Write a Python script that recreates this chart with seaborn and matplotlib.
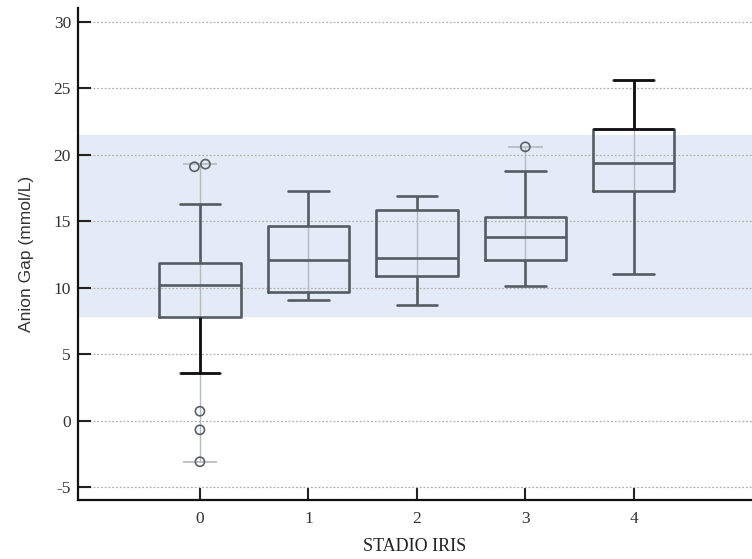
import numpy as np
import pandas as pd
import matplotlib
matplotlib.use("Agg")
import matplotlib.pyplot as plt
import seaborn as sns

# IRIS stage summaries of the anion gap (mmol/L)
stages = ["0", "1", "2", "3", "4"]
whisker_low = [3.6, 9.1, 8.7, 10.1, 11.0]
quartile_1 = [7.8, 9.7, 10.9, 12.05, 17.3]
median = [10.2, 12.05, 12.25, 13.8, 19.35]
quartile_3 = [11.85, 14.65, 15.85, 15.3, 21.95]
whisker_high = [16.3, 17.3, 16.9, 18.8, 25.65]

# individual outside values
outlier_stage = ["0", "0", "0", "0", "0", "3"]
outlier_value = [19.1, 19.3, 0.7, -0.7, -3.1, 20.6]

# reference interval band
ref_low, ref_high = 7.8, 21.5

y_ticks = [-5, 0, 5, 10, 15, 20, 25, 30]

sns.set_theme(style="white")
plt.rcParams["font.family"] = ["Liberation Serif", "DejaVu Serif"]

# five-number rows per stage; with whis=inf the boxes span exactly these values
rows = []
for i, s in enumerate(stages):
    for v in (whisker_low[i], quartile_1[i], median[i], quartile_3[i], whisker_high[i]):
        rows.append({"stage": s, "value": v})
box_df = pd.DataFrame(rows)
out_df = pd.DataFrame({"stage": outlier_stage, "value": outlier_value})

fig = plt.figure(figsize=(7.52, 5.59), dpi=100)
ax = fig.add_axes([78 / 752, 1 - 500 / 559, (752 - 78) / 752, 492 / 559])

ax.axhspan(ref_low, ref_high, color="#e3ecf6", zorder=0.2, lw=0)

box_color = "#545d63"
thin_gray = "#b5babe"

# thin line through the full range of each group, with end marks at extreme outside values
for i, s in enumerate(stages):
    vals = [whisker_low[i], whisker_high[i]] + [v for st, v in zip(outlier_stage, outlier_value) if st == s]
    lo, hi = min(vals), max(vals)
    ax.vlines(i, lo, hi, color=thin_gray, lw=1.0, zorder=1.5)
    if lo < whisker_low[i]:
        ax.hlines(lo, i - 0.16, i + 0.16, color=thin_gray, lw=1.2, zorder=1.5)
    if hi > whisker_high[i]:
        ax.hlines(hi, i - 0.16, i + 0.16, color=thin_gray, lw=1.2, zorder=1.5)

sns.boxplot(data=box_df, x="stage", y="value", order=stages, whis=np.inf,
            width=0.75, fill=False, color=box_color, linecolor=box_color,
            linewidth=1.9, ax=ax, zorder=3)

n_before = len(ax.collections)
sns.swarmplot(data=out_df, x="stage", y="value", order=stages, size=6.6,
              color="white", edgecolor="#5a6166", linewidth=1.2, ax=ax, zorder=4)
swarms = list(ax.collections[n_before:])
for coll in swarms:
    coll.set_facecolor("none")

# darker strokes on the lower whisker of stage 0 and the upper part of stage 4
ax.vlines(0, whisker_low[0], quartile_1[0], color="#111111", lw=1.9, zorder=3.5)
ax.hlines(whisker_low[0], -0.1875, 0.1875, color="#111111", lw=1.9, zorder=3.5)
ax.vlines(4, quartile_3[4], whisker_high[4], color="#111111", lw=1.9, zorder=3.5)
ax.hlines(whisker_high[4], 4 - 0.1875, 4 + 0.1875, color="#111111", lw=1.9, zorder=3.5)
ax.hlines(quartile_3[4], 4 - 0.375, 4 + 0.375, color="#111111", lw=1.9, zorder=3.5)

ax.set_xlim(-1.124, 5.09)
ax.set_ylim(-5.98, 31.05)
ax.set_yticks(y_ticks)
ax.set_yticklabels([str(t) for t in y_ticks])

ax.set_axisbelow(True)
ax.yaxis.grid(True, color="#b0b0b0", lw=0.9, linestyle=(0, (1.5, 1.5)))
ax.xaxis.grid(False)

for side in ("top", "right"):
    ax.spines[side].set_visible(False)
for side in ("left", "bottom"):
    ax.spines[side].set_color("#111111")
    ax.spines[side].set_linewidth(1.6)

ax.tick_params(axis="both", direction="in", length=9, width=1.5, color="#222222",
               labelsize=12.5, labelcolor="#333333", left=True, bottom=True)
ax.tick_params(axis="x", pad=8)
ax.tick_params(axis="y", pad=5)

ax.set_xlabel("STADIO IRIS", fontsize=13, color="#222222", labelpad=8)
ax.set_ylabel("Anion Gap (mmol/L)", fontsize=12.5, color="#333333", labelpad=14,
              family=["Liberation Sans", "DejaVu Sans"])

# lay out the swarm once, then center each cluster of side-by-side points on its
# category, lower values on the left
fig.canvas.draw()
for coll in swarms:
    pts = np.asarray(coll.get_offsets(), dtype=float).copy()
    if len(pts) == 0:
        continue
    if "draw" in coll.__dict__:
        del coll.draw
    c = np.round(np.median(pts[:, 0]))
    order = np.argsort(pts[:, 1])
    groups, cur = [], [order[0]]
    for a, b in zip(order[:-1], order[1:]):
        if pts[b, 1] - pts[a, 1] < 0.6:
            cur.append(b)
        else:
            groups.append(cur)
            cur = [b]
    groups.append(cur)
    for g in groups:
        g = np.array(g)
        xs = np.sort(pts[g, 0])
        pts[g, 0] = xs - (xs.mean() - c)
    coll.set_offsets(pts)

fig.savefig("out.png", dpi=100)
